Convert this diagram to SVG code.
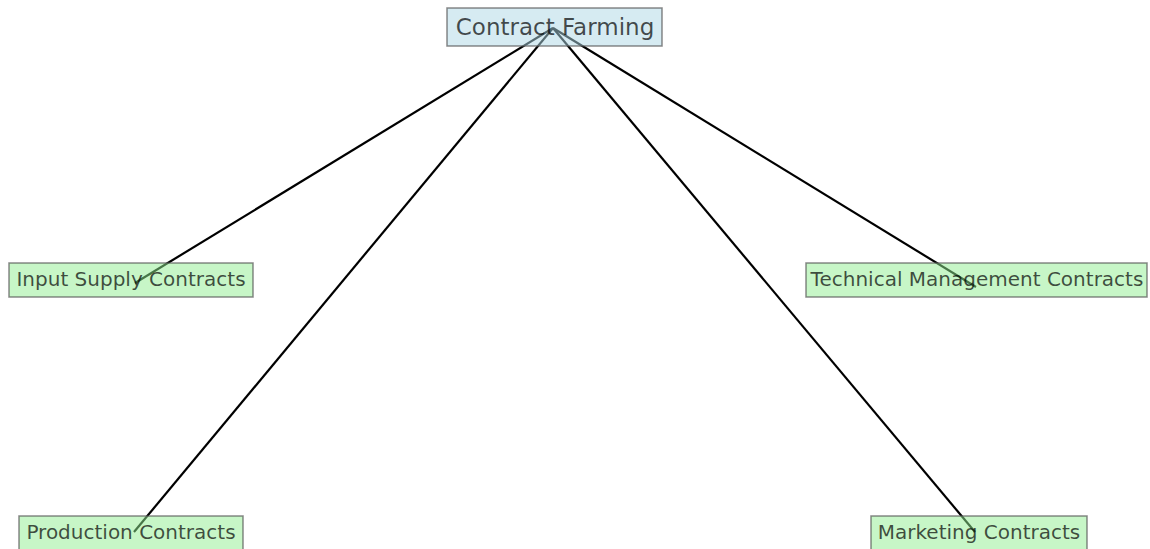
<svg xmlns="http://www.w3.org/2000/svg" width="1150" height="549" viewBox="0 0 1150 549">
<style>
.edge{stroke:#000;stroke-width:2.2;fill:none}
.root rect{fill:#add8e6;fill-opacity:0.5;stroke:#555;stroke-opacity:0.7;stroke-width:1.5}
.leaf rect{fill:#90ee90;fill-opacity:0.5;stroke:#555;stroke-opacity:0.7;stroke-width:1.5}
text{font-family:"DejaVu Sans",sans-serif;fill:#000;fill-opacity:0.7;text-anchor:middle}
.root text{font-size:23px}
.leaf text{font-size:20px}
</style>
<rect width="1150" height="549" fill="#fff"/>
<g id="edges">
<line class="edge" x1="553" y1="28" x2="135" y2="283"/>
<line class="edge" x1="553" y1="28" x2="976" y2="287"/>
<line class="edge" x1="553" y1="28" x2="134" y2="532"/>
<line class="edge" x1="553" y1="28" x2="975" y2="532"/>
</g>
<g id="contract-farming" class="root">
<rect x="447" y="8" width="215" height="38"/>
<text x="555" y="35">Contract Farming</text>
</g>
<g id="input-supply" class="leaf">
<rect x="9" y="263" width="244" height="34"/>
<text x="131" y="286">Input Supply Contracts</text>
</g>
<g id="technical-management" class="leaf">
<rect x="806" y="263" width="341" height="34"/>
<text x="977" y="286">Technical Management Contracts</text>
</g>
<g id="production" class="leaf">
<rect x="19" y="516" width="224" height="34"/>
<text x="131" y="539">Production Contracts</text>
</g>
<g id="marketing" class="leaf">
<rect x="871" y="516" width="216" height="34"/>
<text x="979" y="539">Marketing Contracts</text>
</g>
</svg>
